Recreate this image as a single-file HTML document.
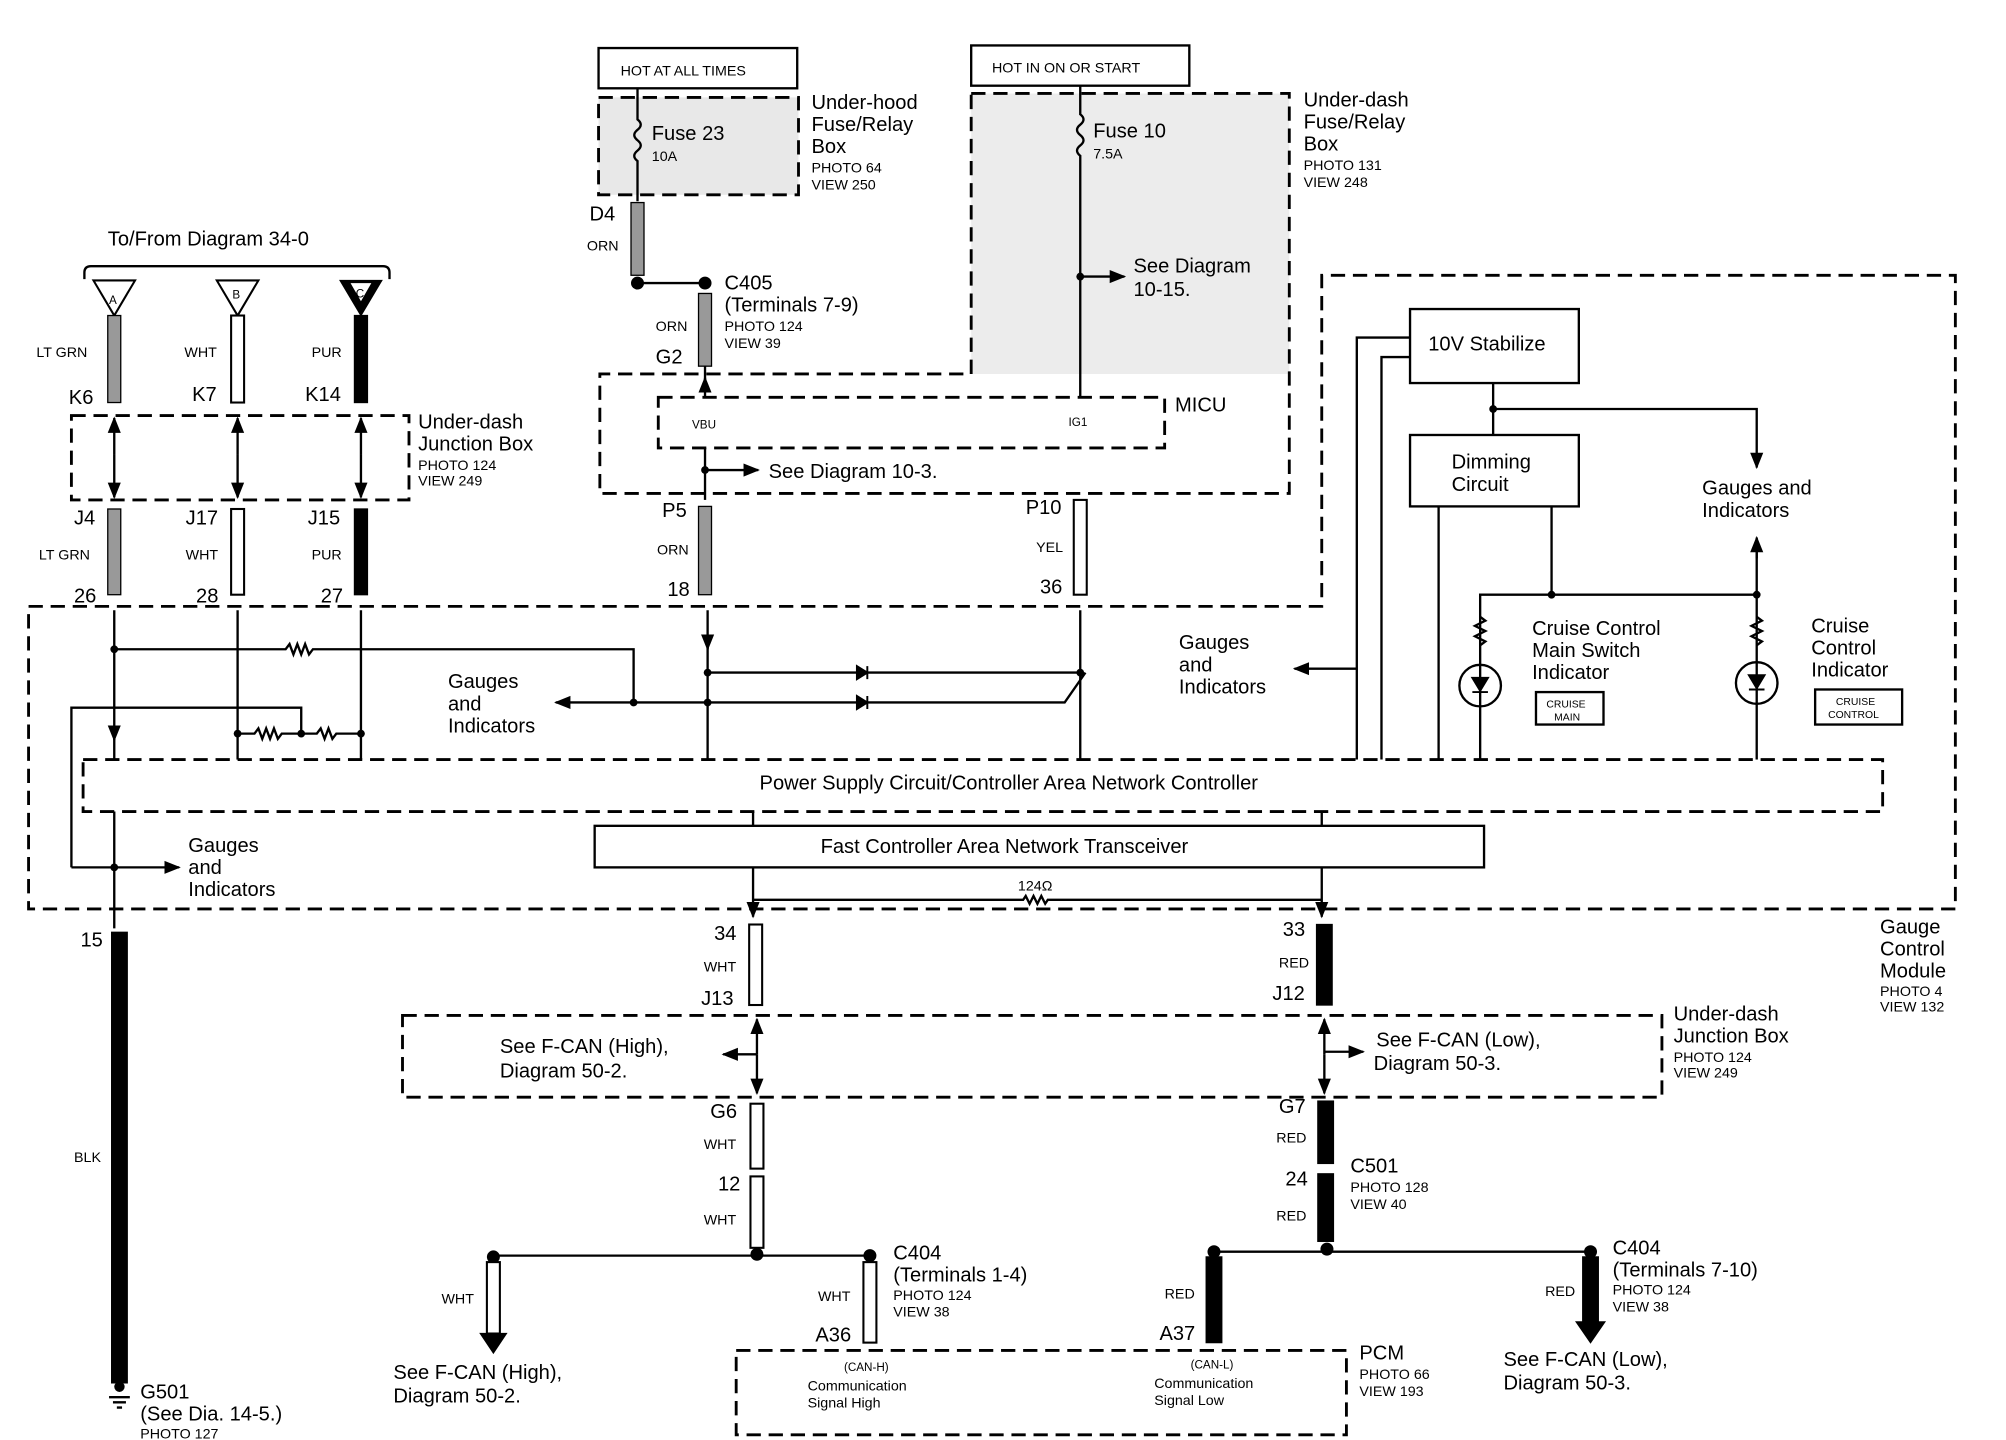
<!DOCTYPE html>
<html><head><meta charset="utf-8"><style>
html,body{margin:0;padding:0;background:#fff}
svg{display:block}
text{font-family:"Liberation Sans",sans-serif;fill:#000}
.t{font-size:15.5px}
.s{font-size:11px}
.xs{font-size:9px}
.l{stroke:#000;stroke-width:1.8;fill:none}
.d{stroke:#000;stroke-width:2.2;fill:none;stroke-dasharray:11 6}
.g{stroke:#000;stroke-width:1;fill:#999}
.w{stroke:#000;stroke-width:1.6;fill:#fff}
.b{stroke:#000;stroke-width:1;fill:#000}
</style></head><body>
<svg width="2006" height="1440" viewBox="0 0 1545 1109" preserveAspectRatio="none" xmlns="http://www.w3.org/2000/svg">
<defs>
<marker id="ar" viewBox="0 0 10 10" refX="9" refY="5" markerWidth="7" markerHeight="7" orient="auto"><path d="M0,1 L10,5 L0,9 z" fill="#000"/></marker>
</defs>
<!-- top boxes -->
<rect x="461" y="37" width="153" height="31" class="l" stroke-width="1.5"/>
<text x="478" y="58" class="s">HOT AT ALL TIMES</text>
<rect x="461" y="75" width="154" height="75" fill="#e8e8e8" stroke="none"/>
<rect x="461" y="75" width="154" height="75" class="d"/>
<text x="625" y="84" class="t">Under-hood</text><text x="625" y="101" class="t">Fuse/Relay</text><text x="625" y="118" class="t">Box</text>
<text x="625" y="133" class="s">PHOTO 64</text><text x="625" y="146" class="s">VIEW 250</text>
<path d="M491,68 V92 q5,4 0,8 q-5,4 0,8 q5,4 0,8 q-5,4 0,8 V155" class="l"/>
<text x="502" y="108" class="t">Fuse 23</text><text x="502" y="124" class="s">10A</text>
<text x="454" y="170" class="t">D4</text><text x="452" y="193" class="s">ORN</text>
<rect x="486" y="156" width="10" height="56" class="g"/>
<circle cx="491" cy="218" r="5" fill="#000"/><path d="M491,218 H543" class="l"/><circle cx="543" cy="218" r="5" fill="#000"/>
<text x="558" y="223" class="t">C405</text><text x="558" y="240" class="t">(Terminals 7-9)</text>
<text x="558" y="255" class="s">PHOTO 124</text><text x="558" y="268" class="s">VIEW 39</text>
<rect x="538" y="226" width="10" height="56" class="g"/>
<text x="505" y="255" class="s">ORN</text><text x="505" y="280" class="t">G2</text>

<rect x="748" y="35" width="168" height="31" class="l" stroke-width="1.5"/>
<text x="764" y="56" class="s">HOT IN ON OR START</text>
<path d="M748,72 H993 V288 H748 Z" fill="#ececec" stroke="none"/>
<path d="M748,72 H993 V380 H462 V288 H748 Z" class="d"/>
<text x="1004" y="82" class="t">Under-dash</text><text x="1004" y="99" class="t">Fuse/Relay</text><text x="1004" y="116" class="t">Box</text>
<text x="1004" y="131" class="s">PHOTO 131</text><text x="1004" y="144" class="s">VIEW 248</text>
<path d="M832,66 V88 q5,4 0,8 q-5,4 0,8 q5,4 0,8 q-5,4 0,8 V306" class="l"/>
<text x="842" y="106" class="t">Fuse 10</text><text x="842" y="122" class="s">7.5A</text>
<circle cx="832" cy="213" r="3" fill="#000"/><path d="M832,213 H866" class="l" marker-end="url(#ar)"/>
<text x="873" y="210" class="t">See Diagram</text><text x="873" y="228" class="t">10-15.</text>
<rect x="507" y="306" width="390" height="39" class="d" stroke-width="1.8"/>
<text x="533" y="330" class="xs">VBU</text><text x="823" y="328" class="xs">IG1</text>
<text x="905" y="317" class="t">MICU</text>
<path d="M543,282 V306" class="l"/><path d="M543,300 V291" class="l" marker-end="url(#ar)"/>
<path d="M543,345 V385" class="l"/><circle cx="543" cy="362" r="3" fill="#000"/><path d="M543,362 H584" class="l" marker-end="url(#ar)"/>
<text x="592" y="368" class="t">See Diagram 10-3.</text>
<text x="510" y="398" class="t">P5</text><rect x="538" y="390" width="10" height="68" class="g"/>
<text x="506" y="427" class="s">ORN</text><text x="514" y="459" class="t">18</text>
<text x="790" y="396" class="t">P10</text><rect x="827" y="385" width="10" height="73" class="w"/>
<text x="798" y="425" class="s">YEL</text><text x="801" y="457" class="t">36</text>

<!-- left -->
<text x="83" y="189" class="t">To/From Diagram 34-0</text>
<path d="M65,215 V210 q0,-5 5,-5 H295 q5,0 5,5 V215" class="l"/>
<path d="M72,216 H104 L88,243 Z" class="w"/><text x="84" y="234" class="xs">A</text>
<path d="M167,216 H199 L183,243 Z" class="w"/><text x="179" y="230" class="xs">B</text>
<path d="M262,216 H294 L278,243 Z" class="b"/><path d="M270,218 H286 L278,232 Z" fill="#fff"/><text x="274" y="229" class="xs">C</text>
<rect x="83" y="243" width="10" height="67" class="g"/>
<rect x="178" y="243" width="10" height="67" class="w"/>
<rect x="273" y="243" width="10" height="67" class="b"/>
<text x="28" y="275" class="s">LT GRN</text><text x="142" y="275" class="s">WHT</text><text x="240" y="275" class="s">PUR</text>
<text x="53" y="311" class="t">K6</text><text x="148" y="309" class="t">K7</text><text x="235" y="309" class="t">K14</text>
<rect x="55" y="320" width="260" height="65" class="d"/>
<g class="l" marker-end="url(#ar)"><path d="M88,350 V322"/><path d="M88,350 V383"/><path d="M183,350 V322"/><path d="M183,350 V383"/><path d="M278,350 V322"/><path d="M278,350 V383"/></g>
<text x="322" y="330" class="t">Under-dash</text><text x="322" y="347" class="t">Junction Box</text>
<text x="322" y="362" class="s">PHOTO 124</text><text x="322" y="374" class="s">VIEW 249</text>
<text x="57" y="404" class="t">J4</text><text x="143" y="404" class="t">J17</text><text x="237" y="404" class="t">J15</text>
<rect x="83" y="392" width="10" height="66" class="g"/><rect x="178" y="392" width="10" height="66" class="w"/><rect x="273" y="392" width="10" height="66" class="b"/>
<text x="30" y="431" class="s">LT GRN</text><text x="143" y="431" class="s">WHT</text><text x="240" y="431" class="s">PUR</text>
<text x="57" y="464" class="t">26</text><text x="151" y="464" class="t">28</text><text x="247" y="464" class="t">27</text>

<!-- module outline -->
<path d="M22,467 H1018 V212 H1506 V700 H22 Z" class="d"/>
<text x="1448" y="719" class="t">Gauge</text><text x="1448" y="736" class="t">Control</text><text x="1448" y="753" class="t">Module</text>
<text x="1448" y="767" class="s">PHOTO 4</text><text x="1448" y="779" class="s">VIEW 132</text>

<g class="l">
<path d="M88,470 V590"/><path d="M183,470 V590"/><path d="M278,470 V590"/><path d="M545,470 V590"/><path d="M832,470 V590"/>
<path d="M88,500 H220 l3,-4 3,8 3,-8 3,8 3,-8 3,8 3,-4 H488 V541"/>
<path d="M545,541 H488"/><path d="M488,541 H428" marker-end="url(#ar)"/>
<path d="M55,668 V545 H232 V565"/>
<path d="M183,565 H196 l3,-4 3,8 3,-8 3,8 3,-8 3,8 3,-4 H244 l3,-4 3,8 3,-8 3,8 3,-4 H278"/>
<path d="M545,518 H832 M545,541 H820 L836,518"/>
<path d="M55,668 H138" marker-end="url(#ar)"/>
<path d="M88,560 V570" marker-end="url(#ar)"/>
<path d="M545,490 V500" marker-end="url(#ar)"/>
</g>
<circle cx="88" cy="500" r="3"/><circle cx="488" cy="541" r="3"/><circle cx="545" cy="518" r="3"/><circle cx="545" cy="541" r="3"/><circle cx="832" cy="518" r="3"/>
<circle cx="183" cy="565" r="3"/><circle cx="232" cy="565" r="3"/><circle cx="278" cy="565" r="3"/><circle cx="88" cy="668" r="3"/>
<path d="M660,513 V523 L668,518 Z M668,513 V523" stroke="#000" stroke-width="1.5"/>
<path d="M660,536 V546 L668,541 Z M668,536 V546" stroke="#000" stroke-width="1.5"/>
<text x="345" y="530" class="t">Gauges</text><text x="345" y="547" class="t">and</text><text x="345" y="564" class="t">Indicators</text>
<text x="145" y="656" class="t">Gauges</text><text x="145" y="673" class="t">and</text><text x="145" y="690" class="t">Indicators</text>

<!-- right internals -->
<rect x="1086" y="238" width="130" height="57" class="l" stroke-width="2.2"/>
<text x="1100" y="270" class="t">10V Stabilize</text>
<rect x="1086" y="335" width="130" height="55" class="l" stroke-width="2.2"/>
<text x="1118" y="361" class="t">Dimming</text><text x="1118" y="378" class="t">Circuit</text>
<g class="l">
<path d="M1086,260 H1045 V585"/><path d="M1045,515 H997" marker-end="url(#ar)"/>
<path d="M1086,275 H1064 V585"/>
<path d="M1150,295 V335"/><path d="M1150,315 H1353 V360" marker-end="url(#ar)"/>
<path d="M1108,390 V585"/>
<path d="M1195,390 V458"/><path d="M1140,585 V458 H1353 V415"/><path d="M1353,430 V414" marker-end="url(#ar)"/>
<path d="M1353,458 V585"/>
<path d="M1140,475 l4,3 -8,4 8,4 -8,4 8,4 -4,3"/><path d="M1353,475 l4,3 -8,4 8,4 -8,4 8,4 -4,3"/>
<circle cx="1140" cy="528" r="16"/><circle cx="1353" cy="526" r="16"/>
</g>
<path d="M1134,522 H1146 L1140,532 Z M1134,533 H1146" stroke="#000" stroke-width="1.5"/>
<path d="M1347,520 H1359 L1353,530 Z M1347,531 H1359" stroke="#000" stroke-width="1.5"/>
<circle cx="1150" cy="315" r="3"/><circle cx="1195" cy="458" r="3"/><circle cx="1353" cy="458" r="3"/>
<text x="908" y="500" class="t">Gauges</text><text x="908" y="517" class="t">and</text><text x="908" y="534" class="t">Indicators</text>
<text x="1311" y="381" class="t">Gauges and</text><text x="1311" y="398" class="t">Indicators</text>
<text x="1180" y="489" class="t">Cruise Control</text><text x="1180" y="506" class="t">Main Switch</text><text x="1180" y="523" class="t">Indicator</text>
<rect x="1183" y="533" width="52" height="25" class="l" stroke-width="1.2"/><text x="1191" y="545" font-size="8">CRUISE</text><text x="1197" y="555" font-size="8">MAIN</text>
<text x="1395" y="487" class="t">Cruise</text><text x="1395" y="504" class="t">Control</text><text x="1395" y="521" class="t">Indicator</text>
<rect x="1398" y="531" width="67" height="27" class="l" stroke-width="1.2"/><text x="1414" y="543" font-size="8">CRUISE</text><text x="1408" y="553" font-size="8">CONTROL</text>

<rect x="64" y="585" width="1386" height="40" fill="#fff" stroke="none"/>
<rect x="64" y="585" width="1386" height="40" class="d"/>
<text x="585" y="608" class="t">Power Supply Circuit/Controller Area Network Controller</text>
<rect x="458" y="636" width="685" height="32" class="l" stroke-width="1.8"/>
<text x="632" y="657" class="t">Fast Controller Area Network Transceiver</text>
<g class="l">
<path d="M580,625 V636 M1018,625 V636"/>
<path d="M88,625 V715"/>
<path d="M580,668 V706" marker-end="url(#ar)"/><path d="M1018,668 V706" marker-end="url(#ar)"/>
<path d="M580,693 H788 l2,-3 3,6 3,-6 3,6 3,-6 3,6 2,-3 H1018"/>
</g>
<text x="784" y="686" class="s">124Ω</text>

<!-- bottom -->
<text x="62" y="729" class="t">15</text>
<rect x="86" y="718" width="12" height="347" class="b"/>
<text x="57" y="895" class="s">BLK</text>
<circle cx="92" cy="1068" r="4"/><path d="M84,1076 H100 M87,1080 H97 M90,1084 H94" class="l" stroke-width="1.2"/>
<text x="108" y="1077" class="t">G501</text><text x="108" y="1094" class="t">(See Dia. 14-5.)</text><text x="108" y="1108" class="s">PHOTO 127</text>

<text x="550" y="724" class="t">34</text><text x="542" y="748" class="s">WHT</text><text x="540" y="774" class="t">J13</text>
<rect x="577" y="712" width="10" height="62" class="w"/>
<text x="988" y="721" class="t">33</text><text x="985" y="745" class="s">RED</text><text x="980" y="770" class="t">J12</text>
<rect x="1014" y="712" width="12" height="62" class="b"/>
<rect x="310" y="782" width="970" height="63" class="d"/>
<g class="l" marker-end="url(#ar)"><path d="M583,812 V785"/><path d="M583,812 V842"/><path d="M1020,812 V785"/><path d="M1020,812 V842"/><path d="M583,812 H557"/><path d="M1020,810 H1050"/></g>
<text x="385" y="811" class="t">See F-CAN (High),</text><text x="385" y="830" class="t">Diagram 50-2.</text>
<text x="1060" y="806" class="t">See F-CAN (Low),</text><text x="1058" y="824" class="t">Diagram 50-3.</text>
<text x="1289" y="786" class="t">Under-dash</text><text x="1289" y="803" class="t">Junction Box</text><text x="1289" y="818" class="s">PHOTO 124</text><text x="1289" y="830" class="s">VIEW 249</text>

<text x="547" y="861" class="t">G6</text><text x="542" y="885" class="s">WHT</text><text x="553" y="917" class="t">12</text><text x="542" y="943" class="s">WHT</text>
<rect x="578" y="850" width="10" height="50" class="w"/><rect x="578" y="906" width="10" height="55" class="w"/>
<text x="985" y="857" class="t">G7</text><text x="983" y="880" class="s">RED</text><text x="990" y="913" class="t">24</text><text x="983" y="940" class="s">RED</text>
<rect x="1015" y="848" width="12" height="48" class="b"/><rect x="1015" y="904" width="12" height="52" class="b"/>
<text x="1040" y="903" class="t">C501</text><text x="1040" y="918" class="s">PHOTO 128</text><text x="1040" y="931" class="s">VIEW 40</text>

<g class="l"><path d="M380,967 H670"/><path d="M935,964 H1225"/></g>
<circle cx="583" cy="966" r="5"/><circle cx="380" cy="968" r="5"/><circle cx="670" cy="967" r="5"/>
<circle cx="1022" cy="962" r="5"/><circle cx="935" cy="964" r="5"/><circle cx="1225" cy="964" r="5"/>
<rect x="375" y="972" width="10" height="55" class="w"/><path d="M370,1027 H390 L380,1042 Z" class="b"/>
<text x="340" y="1004" class="s">WHT</text>
<text x="303" y="1062" class="t">See F-CAN (High),</text><text x="303" y="1080" class="t">Diagram 50-2.</text>
<rect x="665" y="972" width="10" height="62" class="w"/>
<text x="630" y="1002" class="s">WHT</text><text x="628" y="1033" class="t">A36</text>
<text x="688" y="970" class="t">C404</text><text x="688" y="987" class="t">(Terminals 1-4)</text><text x="688" y="1001" class="s">PHOTO 124</text><text x="688" y="1014" class="s">VIEW 38</text>
<rect x="929" y="968" width="12" height="66" class="b"/>
<text x="897" y="1000" class="s">RED</text><text x="893" y="1032" class="t">A37</text>
<rect x="1219" y="968" width="12" height="52" class="b"/><path d="M1214,1018 H1236 L1225,1034 Z" class="b"/>
<text x="1190" y="998" class="s">RED</text>
<text x="1242" y="966" class="t">C404</text><text x="1242" y="983" class="t">(Terminals 7-10)</text><text x="1242" y="997" class="s">PHOTO 124</text><text x="1242" y="1010" class="s">VIEW 38</text>
<text x="1158" y="1052" class="t">See F-CAN (Low),</text><text x="1158" y="1070" class="t">Diagram 50-3.</text>
<rect x="567" y="1040" width="470" height="65" class="d"/>
<text x="650" y="1056" class="xs">(CAN-H)</text><text x="622" y="1071" class="s">Communication</text><text x="622" y="1084" class="s">Signal High</text>
<text x="917" y="1054" class="xs">(CAN-L)</text><text x="889" y="1069" class="s">Communication</text><text x="889" y="1082" class="s">Signal Low</text>
<text x="1047" y="1047" class="t">PCM</text><text x="1047" y="1062" class="s">PHOTO 66</text><text x="1047" y="1075" class="s">VIEW 193</text>
</svg>
</body></html>
